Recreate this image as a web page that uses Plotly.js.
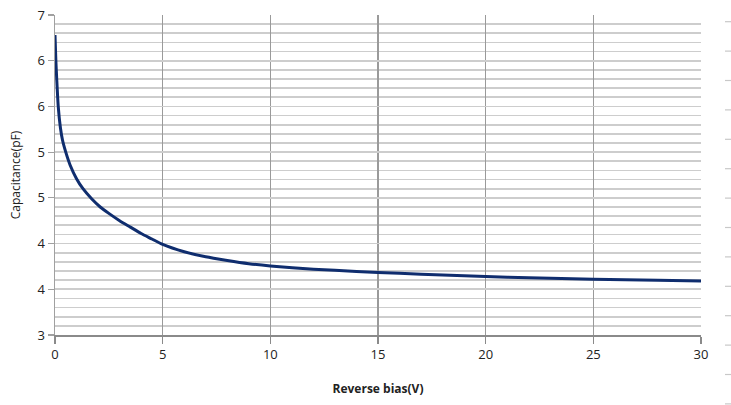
<!DOCTYPE html>
<html>
<head>
<meta charset="utf-8">
<script src="https://cdn.plot.ly/plotly-3.0.1.min.js"></script>
<style>
html,body{margin:0;padding:0;background:#fff;}
#chart{width:731px;height:405px;}
</style>
</head>
<body>
<div id="chart"></div>
<script>
// Reverse bias (V)
var biasV = [0, 0.04, 0.08, 0.15, 0.25, 0.35, 0.5, 0.7, 1.0, 1.3, 1.7, 2.1, 2.5, 3, 3.5, 4, 4.5, 5, 6, 7, 8, 9, 10, 12, 14, 16, 18, 20, 22, 25, 28, 30];
// Capacitance (pF)
var capPF = [6.28, 6.0, 5.8, 5.5, 5.27, 5.13, 5.0, 4.86, 4.71, 4.6, 4.49, 4.4, 4.33, 4.25, 4.18, 4.11, 4.05, 3.99, 3.91, 3.855, 3.815, 3.78, 3.755, 3.72, 3.695, 3.675, 3.655, 3.64, 3.625, 3.61, 3.6, 3.59];
// y tick values and their (rounded) labels as shown
var yTickVals = [3, 3.5, 4, 4.5, 5, 5.5, 6, 6.5];
var yTickText = ['3', '4', '4', '5', '5', '6', '6', '7'];
var xTickVals = [0, 5, 10, 15, 20, 25, 30];
var xTickText = ['0', '5', '10', '15', '20', '25', '30'];

var W = 731, H = 405;
var font = 'Open Sans, Liberation Sans, sans-serif';

var traces = [
  {
    x: biasV, y: capPF, type: 'scatter', mode: 'lines',
    line: {color: '#0f2d6e', width: 3, shape: 'spline', smoothing: 0.6},
    hoverinfo: 'skip', showlegend: false
  }
];

// faint decorative dashes at the right edge of the picture
var shapes = [];
for (var k = 0; k < 14; k++) {
  var yy = 1 - (21.7 + 29.4 * k) / H;
  if (yy < 0) break;
  shapes.push({type: 'line', xref: 'paper', yref: 'paper',
    x0: 725 / W, x1: 731 / W, y0: yy, y1: yy,
    line: {color: '#c8c8c8', width: 1.2}});
}

var layout = {
  width: W, height: H,
  margin: {l: 0, r: 0, t: 0, b: 0},
  paper_bgcolor: '#ffffff', plot_bgcolor: '#ffffff',
  showlegend: false,
  font: {family: font, size: 13, color: '#222'},
  shapes: shapes,
  xaxis: {
    domain: [55 / W, 701 / W],
    range: [0, 30],
    tickvals: xTickVals, ticktext: xTickText,
    showgrid: true, gridcolor: '#9a9a9a', gridwidth: 1.5,
    zeroline: false,
    showline: true, linecolor: '#8a8a8a', linewidth: 1.5,
    ticks: 'outside', ticklen: 7, tickcolor: '#8a8a8a', tickwidth: 1.5,
    tickfont: {family: font, size: 13, color: '#222'},
    automargin: false,
    title: {text: '<b>Reverse bias(V)</b>', font: {family: font, size: 12, color: '#222'}, standoff: 22}
  },
  yaxis: {
    domain: [70 / H, 390 / H],
    range: [3, 6.5],
    tickvals: yTickVals, ticktext: yTickText,
    showgrid: true, gridcolor: '#cdcdcd', gridwidth: 1.6,
    minor: {dtick: 0.1, tick0: 3, showgrid: true, gridcolor: '#cdcdcd', gridwidth: 1.6, ticks: ''},
    zeroline: false,
    showline: true, linecolor: '#a0a0a0', linewidth: 1.5,
    ticks: 'outside', ticklen: 6, tickcolor: '#a0a0a0', tickwidth: 1.2,
    tickfont: {family: font, size: 13, color: '#222'},
    automargin: false,
    title: {text: 'Capacitance(pF)', font: {family: font, size: 12, color: '#222'}, standoff: 14}
  }
};

Plotly.newPlot('chart', traces, layout, {staticPlot: true, displayModeBar: false});
</script>
</body>
</html>
